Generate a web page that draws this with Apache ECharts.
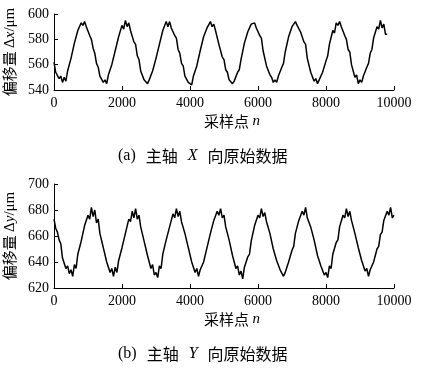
<!DOCTYPE html>
<html><head><meta charset="utf-8">
<script src="https://cdn.jsdelivr.net/npm/echarts@6/dist/echarts.min.js"></script>
<style>html,body{margin:0;padding:0;background:#fff}#c{width:441px;height:370px}</style>
</head><body><div id="c"></div>
<script>
// sampling step between listed readings (sample index n)
const sampleStep = 50;
// x-axis ticks (sample index n)
const nTicks = [0, 2000, 4000, 6000, 8000, 10000];
// y ticks
const xAxisTicks = [540, 560, 580, 600];
const yAxisTicks = [620, 640, 660, 680, 700];
// (a) spindle X raw data, readings every 50 samples from n=0 to n=9800 (µm)
const rawX = [
562, 554, 555, 549, 551,
546, 550, 547, 555, 555, 565, 565, 577, 577, 587, 586, 593, 591, 594, 590, 589, 583, 580, 573, 569, 561, 558, 551, 550, 546,
548, 545, 552, 551, 560, 559, 571, 570, 582, 581, 591, 588, 595, 590, 593, 587, 586, 578, 576, 567, 564, 555, 554, 548, 549,
545, 548, 548, 555, 554, 565, 565, 576, 576, 587, 586, 594, 590, 594, 589, 590, 583, 581, 572, 569, 561, 559, 551, 551, 546,
547, 544, 551, 552, 559, 560, 571, 571, 582, 582, 589, 589, 594, 590, 592, 587, 586, 576, 577, 566, 564, 556, 554, 548, 548,
545, 547, 548, 554, 556, 564, 565, 577, 577, 586, 587, 592, 591, 593, 589, 589, 583, 581, 571, 571, 559, 559, 552, 550, 546,
548, 546, 551, 551, 558, 561, 570, 571, 582, 581, 590, 589, 594, 591, 592, 586, 585, 578, 576, 565, 565, 554, 555, 547, 549,
545, 548, 548, 554, 555, 563, 567, 576, 576, 587, 585, 593, 591, 594, 590, 589, 583, 580, 572, 570, 560, 560, 550, 552, 545,
548, 546, 551, 552, 558, 561, 569, 572, 581, 581, 590, 588, 595, 589, 592, 584, 584
];
// (b) spindle Y raw data, readings every 50 samples from n=0 to n=10000 (µm)
const rawY = [
673, 666, 663, 657, 654, 643, 642, 635, 637, 631,
634, 629, 638, 635, 646, 645, 656, 656, 668, 667, 676, 673, 682, 675, 680, 670, 673, 662, 662, 651, 651, 640, 641, 632, 635,
629, 636, 632, 641, 640, 651, 650, 662, 662, 673, 671, 679, 674, 681, 673, 676, 667, 668, 656, 656, 645, 646, 635, 638, 630,
632, 628, 637, 635, 646, 645, 657, 656, 667, 667, 677, 674, 681, 675, 679, 671, 672, 662, 662, 651, 650, 640, 641, 632, 635,
629, 634, 634, 640, 641, 651, 651, 662, 662, 672, 671, 679, 676, 681, 674, 676, 667, 667, 657, 656, 645, 645, 635, 637, 630,
633, 627, 636, 636, 644, 646, 656, 657, 668, 667, 676, 674, 681, 675, 678, 671, 672, 662, 662, 650, 650, 641, 640, 634, 635,
629, 632, 633, 640, 641, 649, 652, 662, 662, 672, 671, 679, 676, 682, 674, 675, 667, 667, 657, 656, 645, 644, 637, 636, 630,
632, 628, 637, 635, 646, 646, 655, 657, 667, 667, 676, 674, 681, 675, 679, 672, 672, 662, 662, 651, 650, 641, 640, 633, 635,
629, 634, 634, 640, 640, 650, 652, 661, 663, 672, 671, 679, 676, 682, 674, 676
];
const xName = '采样点';
const captionA = ['(a)', '主轴', 'X', '向原始数据'];
const captionB = ['(b)', '主轴', 'Y', '向原始数据'];

const pairs = arr => arr.map((v, i) => [i * sampleStep, v]);
const serif = 'Liberation Serif, DejaVu Serif, serif';
const cjk = 'Noto Sans CJK SC, sans-serif';

function yAx(grid, ticks, varName) {
  return {
    type: 'value', gridIndex: grid,
    min: ticks[0], max: ticks[ticks.length - 1], interval: 20,
    axisLine: {show: true, lineStyle: {color: '#000', width: 1}},
    axisTick: {show: true, inside: true, length: 4, lineStyle: {color: '#000'}},
    splitLine: {show: false},
    axisLabel: {color: '#000', fontFamily: serif, fontSize: 14, margin: 5},
    name: '{c|偏移量} {g|Δ}{i|' + varName + '}{g|/μm}',
    nameLocation: 'middle', nameRotate: 90, nameGap: 27,
    nameTextStyle: {
      rich: {
        c: {fontFamily: cjk, fontSize: 15, color: '#000'},
        g: {fontFamily: serif, fontSize: 15, color: '#000'},
        i: {fontFamily: serif, fontSize: 15, fontStyle: 'italic', color: '#000'}
      }
    }
  };
}
function xAx(grid) {
  return {
    type: 'value', gridIndex: grid,
    min: nTicks[0], max: nTicks[nTicks.length - 1], interval: 2000,
    axisLine: {show: true, onZero: false, lineStyle: {color: '#000', width: 1}},
    axisTick: {show: true, inside: true, length: 4, lineStyle: {color: '#000'}},
    splitLine: {show: false},
    axisLabel: {color: '#000', fontFamily: serif, fontSize: 14, margin: 6, formatter: v => String(v)},
    name: '{c|' + xName + '} {i|n}',
    nameLocation: 'middle', nameGap: 24,
    nameTextStyle: {
      padding: [0, 0, 0, 16],
      rich: {
        c: {fontFamily: cjk, fontSize: 15, color: '#000'},
        i: {fontFamily: serif, fontSize: 15, fontStyle: 'italic', color: '#000'}
      }
    }
  };
}
function caption(parts, top) {
  return {
    type: 'text', left: 118, top: top,
    style: {
      text: '{p|' + parts[0] + '}   {c|' + parts[1] + '}   {i|' + parts[2] + '}   {c|' + parts[3] + '}',
      rich: {
        p: {fontFamily: serif, fontSize: 16, fill: '#000'},
        c: {fontFamily: cjk, fontSize: 16, fill: '#000'},
        i: {fontFamily: serif, fontSize: 16, fontStyle: 'italic', fill: '#000'}
      }
    }
  };
}

const chart = echarts.init(document.getElementById('c'));
chart.setOption({
  animation: false,
  backgroundColor: '#fff',
  grid: [
    {left: 54, top: 14, width: 340, height: 76, containLabel: false, outerBoundsMode: 'none'},
    {left: 54, top: 184, width: 340, height: 104, containLabel: false, outerBoundsMode: 'none'}
  ],
  xAxis: [xAx(0), xAx(1)],
  yAxis: [yAx(0, xAxisTicks, 'x'), yAx(1, yAxisTicks, 'y')],
  series: [
    {type: 'line', xAxisIndex: 0, yAxisIndex: 0, data: pairs(rawX), showSymbol: false,
     lineStyle: {color: '#000', width: 1.5}},
    {type: 'line', xAxisIndex: 1, yAxisIndex: 1, data: pairs(rawY), showSymbol: false,
     lineStyle: {color: '#000', width: 1.5}}
  ],
  graphic: [caption(captionA, 148), caption(captionB, 346)]
});
</script></body></html>
